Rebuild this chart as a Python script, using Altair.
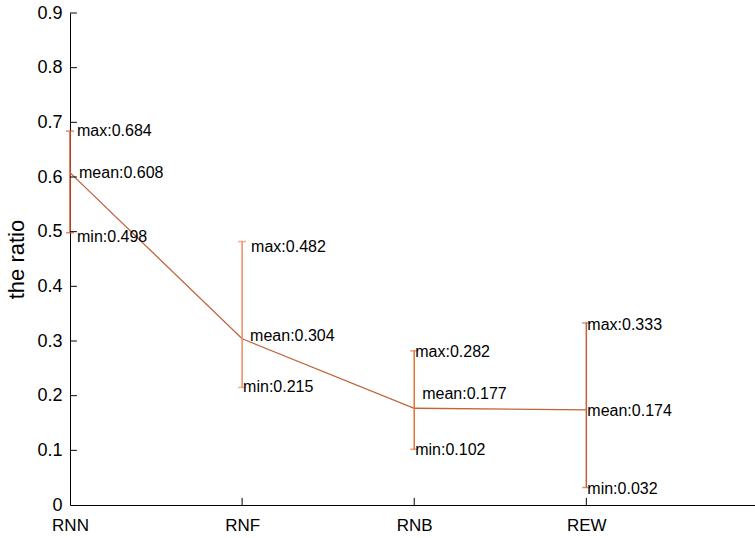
import altair as alt
import pandas as pd

# Per-method summary statistics of the ratio
methods = ["RNN", "RNF", "RNB", "REW"]
max_vals = [0.684, 0.482, 0.282, 0.333]
mean_vals = [0.608, 0.304, 0.177, 0.174]
min_vals = [0.498, 0.215, 0.102, 0.032]

y_ticks = [0.1, 0.2, 0.3, 0.4, 0.5, 0.6, 0.7, 0.8, 0.9]

# Styling
bar_colors = ["#d95a30", "#ef8a62", "#e8702f", "#c4603a"]
line_color = "#c0643c"
FONT = "Liberation Sans"

# Label nudges in pixels (dx, dy)
nudge = {
    ("RNN", "max"): (7, 0), ("RNN", "mean"): (9, 0), ("RNN", "min"): (7, 4),
    ("RNF", "max"): (9, 5), ("RNF", "mean"): (8, -3), ("RNF", "min"): (1, 0),
    ("RNB", "max"): (1, 1), ("RNB", "mean"): (8, -14), ("RNB", "min"): (1, 1),
    ("REW", "max"): (1, 2), ("REW", "mean"): (1, 1), ("REW", "min"): (1, 1),
}

pos = list(range(len(methods)))
stats = pd.DataFrame({
    "method": methods, "pos": pos,
    "max": max_vals, "mean": mean_vals, "min": min_vals,
})

label_rows = []
for i, m in enumerate(methods):
    for kind, vals in (("max", max_vals), ("mean", mean_vals), ("min", min_vals)):
        label_rows.append({"method": m, "pos": i, "kind": kind,
                           "value": vals[i], "text": f"{kind}:{vals[i]:.3f}"})
labels = pd.DataFrame(label_rows)

x_scale = alt.Scale(domain=[0, 3.98], nice=False, zero=False)
y_scale = alt.Scale(domain=[0, 0.9], nice=False)
color_scale = alt.Scale(domain=methods, range=bar_colors)

label_expr = "[" + ",".join(f"'{m}'" for m in methods) + "][datum.value]"

x_enc = alt.X("pos:Q", scale=x_scale, axis=alt.Axis(
    values=pos, labelExpr=label_expr, title=None, ticks=False, grid=False,
    labelFlush=False, labelFontSize=17, labelPadding=12, labelColor="black",
    domainColor="black", labelFont=FONT))
y_axis = alt.Axis(values=[0] + y_ticks, format="~g", title="the ratio", ticks=False,
                  grid=False, labelFontSize=18, labelPadding=8, labelColor="black",
                  labelFlush=False, domainColor="black", titleFontSize=22,
                  titleFontWeight="normal", titleColor="black", titlePadding=8,
                  labelFont=FONT, titleFont=FONT)

base = alt.Chart(stats)

line = base.mark_line(color=line_color, strokeWidth=1.3).encode(
    x=x_enc, y=alt.Y("mean:Q", scale=y_scale, axis=y_axis))

bars = base.mark_rule(strokeWidth=1.5).encode(
    x=alt.X("pos:Q", scale=x_scale),
    y=alt.Y("min:Q", scale=y_scale),
    y2="max:Q",
    color=alt.Color("method:N", scale=color_scale, legend=None))

cap_hi = base.mark_tick(orient="horizontal", size=8, thickness=1.5).encode(
    x=alt.X("pos:Q", scale=x_scale), y=alt.Y("max:Q", scale=y_scale),
    color=alt.Color("method:N", scale=color_scale, legend=None))
cap_lo = base.mark_tick(orient="horizontal", size=8, thickness=1.5).encode(
    x=alt.X("pos:Q", scale=x_scale), y=alt.Y("min:Q", scale=y_scale),
    color=alt.Color("method:N", scale=color_scale, legend=None))

# Inward-pointing axis ticks
xt = pd.DataFrame({"pos": pos[1:]})
x_ticks = alt.Chart(xt).mark_rule(color="black", strokeWidth=1).encode(
    x=alt.X("pos:Q", scale=x_scale), y=alt.datum(0, scale=y_scale),
    y2=alt.datum(0.013))
yt = pd.DataFrame({"v": y_ticks})
y_tick_marks = alt.Chart(yt).mark_rule(color="black", strokeWidth=1).encode(
    y=alt.Y("v:Q", scale=y_scale), x=alt.datum(0, scale=x_scale),
    x2=alt.datum(0.04))

text_layers = []
for _, r in labels.iterrows():
    dx, dy = nudge[(r["method"], r["kind"])]
    text_layers.append(
        alt.Chart(pd.DataFrame([r])).mark_text(
            align="left", baseline="middle", dx=dx, dy=dy, fontSize=16,
            font=FONT, color="black").encode(
            x=alt.X("pos:Q", scale=x_scale), y=alt.Y("value:Q", scale=y_scale),
            text="text:N"))

chart = alt.layer(line, bars, cap_hi, cap_lo, x_ticks, y_tick_marks,
                  *text_layers).properties(
    width=685, height=492,
    autosize=alt.AutoSizeParams(type="none"),
    padding={"left": 70, "top": 13, "right": 0, "bottom": 33},
).configure_view(stroke=None).configure_axis(domainWidth=1)

chart.save("out.html", embed_options={"renderer": "svg", "actions": False})
